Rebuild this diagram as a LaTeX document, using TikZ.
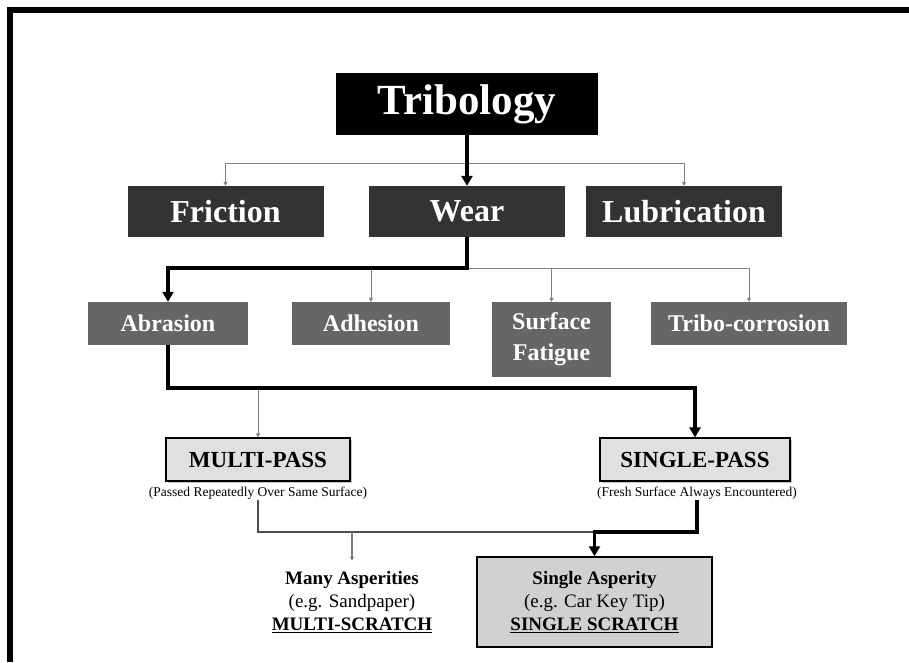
\documentclass[tikz,border=0pt]{standalone}
\usepackage{fontspec}
\setmainfont{Liberation Serif}
\usetikzlibrary{arrows.meta,shadows}
\begin{document}
\begin{tikzpicture}[x=1pt,y=-1pt,
 thickln/.style={line width=3.5pt, draw=black},
 thinln/.style={line width=0.9pt, draw=black!50},
 bigarrow/.style={-{Triangle[length=10pt,width=11pt]}},
 smallarrow/.style={-{Triangle[length=4pt,width=4pt]}},
 topbox/.style={fill=black, text=white, font=\bfseries\fontsize{43}{48}\selectfont, minimum width=262pt, minimum height=62pt, inner sep=0pt},
 midbox/.style={fill=black!80, text=white, font=\bfseries\fontsize{32}{36}\selectfont, minimum width=196pt, minimum height=51pt, inner sep=0pt},
 lowbox/.style={fill=black!60, text=white, font=\bfseries\fontsize{24}{28}\selectfont, minimum height=43pt, inner sep=0pt, align=center},
 passbox/.style={fill=black!12, draw=black, line width=1.2pt, font=\bfseries\fontsize{23}{26}\selectfont, minimum height=43pt, inner sep=0pt, drop shadow={shadow xshift=2pt, shadow yshift=-2pt, fill=black!45}},
 captxt/.style={font=\fontsize{13.5}{16}\selectfont, inner sep=1pt},
 scratch/.style={font=\fontsize{19}{23}\selectfont, align=center, minimum width=235pt, minimum height=90pt, inner sep=0pt}
]
\useasboundingbox (0,0) rectangle (909,662);
\fill[white] (0,0) rectangle (909,662);
% frame (cropped)
\draw[line width=6pt] (10,662) -- (10,10) -- (909,10);

% nodes
\node[topbox] (trib) at (467,104) {Tribology};
\node[midbox] (fric) at (225.5,211.5) {Friction};
\node[midbox] (wear) at (467,211.5) {Wear};
\node[midbox] (lub) at (684,211.5) {Lubrication};

\node[lowbox, minimum width=160pt] (abr) at (168,323.5) {Abrasion};
\node[lowbox, minimum width=158pt] (adh) at (371,323.5) {Adhesion};
\node[lowbox, minimum width=119pt, minimum height=75pt] (sf) at (551.5,339.5) {Surface\\[3pt]Fatigue};
\node[lowbox, minimum width=196pt] (tc) at (749,323.5) {Tribo-corrosion};

\node[passbox, minimum width=184pt] (mp) at (258,459.5) {MULTI-PASS};
\node[passbox, minimum width=190pt] (sp) at (695,459.5) {SINGLE-PASS};
\node[captxt] (mcap) at (258,493) {(Passed Repeatedly Over Same Surface)};
\node[captxt] (scap) at (697,493) {(Fresh Surface Always Encountered)};

\node[scratch] (ma) at (352,602) {\textbf{Many Asperities}\\(e.g. Sandpaper)\\\textbf{\underline{MULTI-SCRATCH}}};
\node[scratch, fill=black!18, draw=black, line width=1.5pt] (sa) at (594.5,602) {\textbf{Single Asperity}\\(e.g. Car Key Tip)\\\textbf{\underline{SINGLE SCRATCH}}};

% junction coordinates
\coordinate (j1) at (467,163);
\coordinate (j2) at (467,268);
\coordinate (j3) at (168,388);
\coordinate (j4) at (258,532);

% level 1
\draw[thinln] (fric.north |- j1) -- (lub.north |- j1);
\draw[thinln,smallarrow] (fric.north |- j1) -- (fric.north);
\draw[thinln,smallarrow] (lub.north |- j1) -- (lub.north);
\draw[thickln,bigarrow] (trib.south) -- (wear.north);

% level 2
\draw[thinln] (j2) -- (tc.north |- j2);
\draw[thinln,smallarrow] (adh.north |- j2) -- (adh.north);
\draw[thinln,smallarrow] (sf.north |- j2) -- (sf.north);
\draw[thinln,smallarrow] (tc.north |- j2) -- (tc.north);
\draw[thickln,bigarrow] (wear.south) |- (abr.north |- j2) -- (abr.north);

% level 3
\draw[thinln,smallarrow] (mp.north |- j3) -- (mp.north);
\draw[thickln,bigarrow] (abr.south) |- (sp.north |- j3) -- (sp.north);

% level 4
\draw[thinln, draw=black!70, line width=1.5pt] (mcap.south) -- (mcap.south |- j4) -- (sa.north |- j4);
\draw[thinln,smallarrow, line width=1.2pt] (ma.north |- j4) -- ([yshift=-4pt]ma.north);
\draw[thickln,bigarrow] (scap.south) |- (sa.north |- j4) -- (sa.north);
\end{tikzpicture}
\end{document}
